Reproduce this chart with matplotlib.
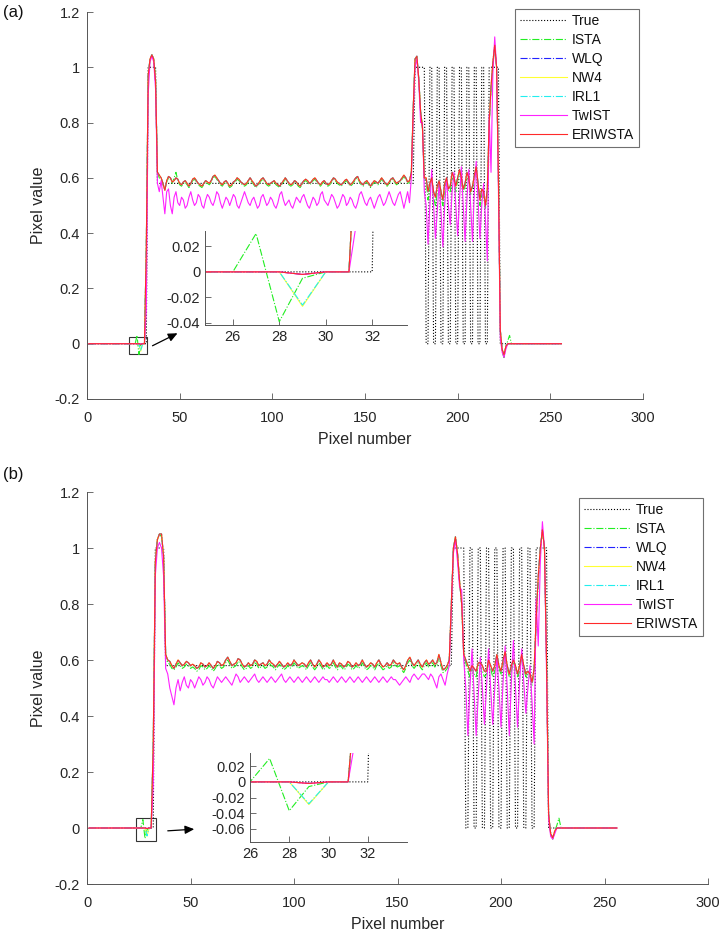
import numpy as np
import matplotlib
matplotlib.use("Agg")
import matplotlib.pyplot as plt
from matplotlib.patches import Rectangle, FancyArrowPatch

plt.rcParams['font.family'] = ['Liberation Sans', 'DejaVu Sans']

W, H = 723, 931

# ---------------- data ----------------
x = np.arange(1, 257)
TRUE = [0.0]*32 + [1.0]*5 + [0.58]*139 + [1.0]*6 + [0, 0, 1, 1]*8 + [0, 0] + [1.0]*6 + [0.0]*34

# ---- panel (a) ----
# segments: x 1-25 | 26-38 | 39-174 | 175-182 | 183-216 | 217-230 | 231-256
A_red_start = [0, 0, 0, -0.002, 0, 0, 0.35, 0.97, 1.03, 1.045, 1.03, 0.95, 0.62]
A_mag_start = [0, 0, 0, -0.002, 0, 0, 0.12, 0.90, 1.02, 1.04, 1.02, 0.92, 0.58]
A_grn_start = [0, 0.03, -0.039, -0.005, 0, 0, 0.35, 0.96, 1.03, 1.045, 1.03, 0.95, 0.62]
A_cyn_start = [0, 0, 0, -0.026, 0, 0, 0.35, 0.97, 1.03, 1.045, 1.03, 0.95, 0.62]
A_yel_start = [0, 0, 0, -0.027, 0, 0, 0.35, 0.97, 1.03, 1.045, 1.03, 0.95, 0.62]
A_blu_start = [0, 0, 0, -0.002, 0, 0, 0.35, 0.97, 1.03, 1.045, 1.03, 0.95, 0.62]

A_red_mid = [0.61, 0.60, 0.58, 0.555, 0.59, 0.605, 0.60, 0.585, 0.59, 0.60,
             0.595, 0.58, 0.575, 0.585, 0.59, 0.58, 0.57, 0.58, 0.595, 0.60,
             0.59, 0.58, 0.575, 0.57, 0.58, 0.59, 0.585, 0.58, 0.59, 0.605,
             0.61, 0.60, 0.59, 0.58, 0.575, 0.585, 0.59, 0.58, 0.57, 0.575,
             0.585, 0.59, 0.60, 0.595, 0.585, 0.58, 0.575, 0.58, 0.59, 0.60,
             0.59, 0.58, 0.57, 0.575, 0.585, 0.595, 0.60, 0.59, 0.58, 0.575,
             0.58, 0.585, 0.59, 0.58, 0.575, 0.57, 0.58, 0.59, 0.60, 0.59,
             0.58, 0.575, 0.58, 0.59, 0.585, 0.575, 0.57, 0.58, 0.59, 0.595,
             0.59, 0.58, 0.585, 0.595, 0.60, 0.59, 0.58, 0.575, 0.585, 0.59,
             0.58, 0.575, 0.58, 0.59, 0.60, 0.595, 0.585, 0.58, 0.575, 0.58,
             0.59, 0.595, 0.585, 0.575, 0.58, 0.59, 0.60, 0.605, 0.59, 0.58,
             0.575, 0.585, 0.59, 0.58, 0.57, 0.58, 0.59, 0.585, 0.58, 0.59,
             0.60, 0.59, 0.58, 0.575, 0.585, 0.595, 0.60, 0.59, 0.58, 0.585,
             0.59, 0.60, 0.61, 0.60, 0.585, 0.59]
A_mag_mid = [0.55, 0.59, 0.53, 0.47, 0.55, 0.56, 0.50, 0.47, 0.53, 0.55,
             0.51, 0.50, 0.53, 0.52, 0.49, 0.50, 0.53, 0.55, 0.52, 0.50,
             0.51, 0.54, 0.53, 0.50, 0.49, 0.52, 0.54, 0.53, 0.51, 0.50,
             0.52, 0.55, 0.54, 0.51, 0.49, 0.51, 0.53, 0.52, 0.50, 0.52,
             0.54, 0.53, 0.50, 0.49, 0.51, 0.53, 0.55, 0.53, 0.51, 0.50,
             0.52, 0.53, 0.51, 0.49, 0.50, 0.53, 0.54, 0.52, 0.50, 0.51,
             0.53, 0.52, 0.50, 0.49, 0.51, 0.54, 0.55, 0.52, 0.50, 0.51,
             0.52, 0.50, 0.49, 0.51, 0.53, 0.52, 0.51, 0.53, 0.54, 0.52,
             0.50, 0.49, 0.51, 0.53, 0.52, 0.50, 0.51, 0.54, 0.55, 0.52,
             0.51, 0.50, 0.52, 0.54, 0.53, 0.51, 0.49, 0.50, 0.52, 0.54,
             0.53, 0.50, 0.51, 0.53, 0.52, 0.50, 0.49, 0.51, 0.54, 0.55,
             0.53, 0.51, 0.50, 0.52, 0.53, 0.51, 0.49, 0.51, 0.53, 0.54,
             0.52, 0.50, 0.51, 0.53, 0.55, 0.53, 0.51, 0.50, 0.52, 0.54,
             0.55, 0.52, 0.49, 0.52, 0.55, 0.51]
A_grn_mid = [0.60, 0.595, 0.575, 0.56, 0.585, 0.60, 0.595, 0.58, 0.60, 0.62,
             0.59, 0.575, 0.57, 0.58, 0.585, 0.575, 0.565, 0.575, 0.59, 0.595,
             0.585, 0.575, 0.57, 0.565, 0.575, 0.585, 0.58, 0.575, 0.585, 0.60,
             0.605, 0.595, 0.585, 0.575, 0.57, 0.58, 0.585, 0.575, 0.565, 0.57,
             0.58, 0.585, 0.595, 0.59, 0.58, 0.575, 0.57, 0.575, 0.585, 0.595,
             0.585, 0.575, 0.565, 0.57, 0.58, 0.59, 0.595, 0.585, 0.575, 0.57,
             0.575, 0.58, 0.585, 0.575, 0.57, 0.565, 0.575, 0.585, 0.595, 0.585,
             0.575, 0.57, 0.575, 0.585, 0.58, 0.57, 0.565, 0.575, 0.585, 0.59,
             0.585, 0.575, 0.58, 0.59, 0.595, 0.585, 0.575, 0.57, 0.58, 0.585,
             0.575, 0.57, 0.575, 0.585, 0.595, 0.59, 0.58, 0.575, 0.57, 0.575,
             0.585, 0.59, 0.58, 0.57, 0.575, 0.585, 0.595, 0.60, 0.585, 0.575,
             0.57, 0.58, 0.585, 0.575, 0.565, 0.575, 0.585, 0.58, 0.575, 0.585,
             0.595, 0.585, 0.575, 0.57, 0.58, 0.59, 0.595, 0.585, 0.575, 0.58,
             0.585, 0.595, 0.605, 0.595, 0.58, 0.585]

A_red_pk1 = [0.62, 0.85, 1.03, 1.04, 0.96, 0.84, 0.78, 0.60]
A_mag_pk1 = [0.60, 0.82, 1.00, 1.03, 0.95, 0.80, 0.80, 0.55]
A_grn_pk1 = [0.61, 0.84, 1.02, 1.04, 0.96, 0.84, 0.79, 0.60]

A_red_osc = [0.60, 0.55, 0.58, 0.60, 0.55, 0.53, 0.57, 0.59, 0.55, 0.52,
             0.58, 0.60, 0.56, 0.57, 0.62, 0.60, 0.57, 0.60, 0.63, 0.60,
             0.56, 0.58, 0.62, 0.60, 0.55, 0.57, 0.61, 0.64, 0.58, 0.52,
             0.56, 0.55, 0.50, 0.56]
A_mag_osc = [0.50, 0.36, 0.50, 0.63, 0.50, 0.38, 0.48, 0.58, 0.48, 0.35,
             0.50, 0.60, 0.50, 0.43, 0.55, 0.62, 0.50, 0.39, 0.52, 0.64,
             0.50, 0.37, 0.52, 0.63, 0.50, 0.37, 0.55, 0.66, 0.52, 0.38,
             0.50, 0.58, 0.45, 0.30]
A_grn_osc = [0.59, 0.52, 0.56, 0.60, 0.53, 0.50, 0.55, 0.58, 0.53, 0.50,
             0.56, 0.60, 0.55, 0.55, 0.60, 0.59, 0.55, 0.59, 0.62, 0.59,
             0.55, 0.57, 0.60, 0.59, 0.54, 0.56, 0.60, 0.62, 0.57, 0.50,
             0.54, 0.53, 0.49, 0.54]

A_red_pk2 = [0.80, 0.93, 1.02, 1.08, 1.00, 0.60, 0.05, -0.02, -0.04, -0.01, 0, 0, 0, 0]
A_mag_pk2 = [0.83, 0.62, 0.98, 1.11, 1.00, 0.55, 0.02, -0.03, -0.05, -0.02, 0, 0, 0, 0]
A_grn_pk2 = [0.79, 0.92, 1.01, 1.07, 1.00, 0.60, 0.04, -0.03, -0.05, -0.01, 0.01, 0.03, 0, 0]

# ---- panel (b) ----
B_red_start = [0, 0, 0, -0.002, 0, 0, 0.30, 0.95, 1.03, 1.05, 1.05, 0.97, 0.62]
B_mag_start = [0, 0, 0, -0.002, 0, 0, 0.15, 0.90, 1.00, 1.02, 1.00, 0.90, 0.57]
B_grn_start = [0, 0.03, -0.037, -0.006, 0, 0, 0.30, 0.94, 1.03, 1.05, 1.04, 0.96, 0.62]
B_cyn_start = [0, 0, 0, -0.028, 0, 0, 0.30, 0.95, 1.03, 1.05, 1.05, 0.97, 0.62]
B_yel_start = [0, 0, 0, -0.029, 0, 0, 0.30, 0.95, 1.03, 1.05, 1.05, 0.97, 0.62]
B_blu_start = [0, 0, 0, -0.002, 0, 0, 0.30, 0.95, 1.03, 1.05, 1.05, 0.97, 0.62]

B_red_mid = [0.60, 0.595, 0.58, 0.57, 0.585, 0.60, 0.59, 0.58, 0.585, 0.595,
             0.59, 0.58, 0.585, 0.58, 0.57, 0.575, 0.59, 0.585, 0.575, 0.58,
             0.59, 0.58, 0.57, 0.58, 0.595, 0.59, 0.58, 0.585, 0.60, 0.61,
             0.595, 0.58, 0.585, 0.59, 0.605, 0.60, 0.585, 0.575, 0.58, 0.59,
             0.58, 0.585, 0.60, 0.595, 0.58, 0.585, 0.59, 0.58, 0.585, 0.60,
             0.59, 0.585, 0.575, 0.585, 0.595, 0.585, 0.575, 0.58, 0.59, 0.58,
             0.585, 0.60, 0.59, 0.58, 0.585, 0.59, 0.585, 0.575, 0.59, 0.60,
             0.585, 0.575, 0.585, 0.60, 0.59, 0.575, 0.58, 0.59, 0.58, 0.585,
             0.60, 0.585, 0.575, 0.59, 0.585, 0.575, 0.58, 0.595, 0.59, 0.575,
             0.58, 0.59, 0.58, 0.585, 0.60, 0.585, 0.575, 0.58, 0.59, 0.585,
             0.575, 0.59, 0.60, 0.585, 0.575, 0.58, 0.59, 0.58, 0.585, 0.60,
             0.59, 0.585, 0.59, 0.575, 0.565, 0.58, 0.60, 0.61, 0.59, 0.58,
             0.59, 0.60, 0.585, 0.575, 0.59, 0.60, 0.585, 0.59, 0.60, 0.585,
             0.59, 0.62, 0.59, 0.565, 0.57, 0.58]
B_mag_mid = [0.55, 0.50, 0.47, 0.44, 0.50, 0.53, 0.49, 0.52, 0.54, 0.51,
             0.50, 0.53, 0.52, 0.50, 0.52, 0.54, 0.53, 0.51, 0.52, 0.54,
             0.53, 0.51, 0.50, 0.52, 0.54, 0.53, 0.52, 0.53, 0.54, 0.53,
             0.52, 0.51, 0.53, 0.55, 0.54, 0.52, 0.53, 0.54, 0.53, 0.52,
             0.53, 0.54, 0.55, 0.53, 0.52, 0.53, 0.54, 0.53, 0.52, 0.53,
             0.54, 0.53, 0.52, 0.53, 0.54, 0.55, 0.53, 0.52, 0.53, 0.54,
             0.53, 0.52, 0.53, 0.54, 0.53, 0.52, 0.53, 0.54, 0.53, 0.52,
             0.53, 0.54, 0.53, 0.52, 0.53, 0.54, 0.53, 0.53, 0.52, 0.53,
             0.54, 0.53, 0.52, 0.53, 0.54, 0.53, 0.52, 0.53, 0.54, 0.53,
             0.52, 0.53, 0.54, 0.53, 0.52, 0.53, 0.54, 0.53, 0.52, 0.53,
             0.54, 0.53, 0.52, 0.53, 0.54, 0.53, 0.52, 0.53, 0.54, 0.53,
             0.53, 0.52, 0.51, 0.52, 0.53, 0.54, 0.53, 0.52, 0.54, 0.55,
             0.54, 0.53, 0.54, 0.55, 0.55, 0.54, 0.53, 0.55, 0.54, 0.52,
             0.50, 0.54, 0.55, 0.53, 0.51, 0.55]
B_grn_mid = [0.59, 0.585, 0.57, 0.565, 0.575, 0.59, 0.58, 0.57, 0.575, 0.585,
             0.58, 0.57, 0.575, 0.57, 0.56, 0.565, 0.58, 0.575, 0.565, 0.57,
             0.58, 0.57, 0.56, 0.57, 0.585, 0.58, 0.57, 0.575, 0.59, 0.60,
             0.585, 0.57, 0.575, 0.58, 0.595, 0.59, 0.575, 0.565, 0.57, 0.58,
             0.57, 0.575, 0.59, 0.585, 0.57, 0.575, 0.58, 0.57, 0.575, 0.59,
             0.58, 0.575, 0.565, 0.575, 0.585, 0.575, 0.565, 0.57, 0.58, 0.57,
             0.575, 0.59, 0.58, 0.57, 0.575, 0.58, 0.575, 0.565, 0.58, 0.59,
             0.575, 0.565, 0.575, 0.59, 0.58, 0.565, 0.57, 0.58, 0.57, 0.575,
             0.59, 0.575, 0.565, 0.58, 0.575, 0.565, 0.57, 0.585, 0.58, 0.565,
             0.57, 0.58, 0.57, 0.575, 0.59, 0.575, 0.565, 0.57, 0.58, 0.575,
             0.565, 0.58, 0.59, 0.575, 0.565, 0.57, 0.58, 0.57, 0.575, 0.59,
             0.58, 0.575, 0.58, 0.565, 0.555, 0.57, 0.59, 0.60, 0.58, 0.57,
             0.58, 0.59, 0.575, 0.565, 0.58, 0.59, 0.575, 0.58, 0.59, 0.575,
             0.58, 0.61, 0.58, 0.555, 0.56, 0.57]

B_red_pk1 = [0.60, 0.80, 1.00, 1.04, 0.98, 0.88, 0.80, 0.62]
B_mag_pk1 = [0.58, 0.78, 0.98, 1.03, 0.95, 0.86, 0.85, 0.60]
B_grn_pk1 = [0.59, 0.79, 0.99, 1.04, 0.98, 0.88, 0.80, 0.62]

B_red_osc = [0.60, 0.58, 0.56, 0.58, 0.57, 0.56, 0.59, 0.59, 0.58, 0.56,
             0.56, 0.60, 0.58, 0.56, 0.58, 0.62, 0.58, 0.56, 0.60, 0.63,
             0.58, 0.55, 0.58, 0.60, 0.58, 0.55, 0.58, 0.62, 0.58, 0.55,
             0.56, 0.55, 0.52, 0.57]
B_mag_osc = [0.50, 0.33, 0.50, 0.64, 0.48, 0.33, 0.47, 0.61, 0.50, 0.37,
             0.50, 0.64, 0.50, 0.37, 0.50, 0.61, 0.50, 0.36, 0.52, 0.65,
             0.50, 0.33, 0.52, 0.67, 0.50, 0.36, 0.52, 0.64, 0.52, 0.41,
             0.50, 0.58, 0.45, 0.30]
B_grn_osc = [0.59, 0.56, 0.54, 0.57, 0.55, 0.54, 0.58, 0.58, 0.56, 0.54,
             0.55, 0.59, 0.57, 0.54, 0.56, 0.60, 0.57, 0.55, 0.58, 0.61,
             0.57, 0.54, 0.56, 0.59, 0.57, 0.54, 0.56, 0.61, 0.57, 0.54,
             0.55, 0.54, 0.51, 0.56]

B_red_pk2 = [0.75, 0.90, 1.00, 1.065, 1.00, 0.60, 0.05, -0.02, -0.035, -0.01, 0, 0, 0, 0]
B_mag_pk2 = [0.82, 0.65, 0.95, 1.094, 1.00, 0.55, 0.03, -0.03, -0.04, -0.02, 0, 0, 0, 0]
B_grn_pk2 = [0.74, 0.88, 0.99, 1.06, 1.00, 0.60, 0.04, -0.02, -0.04, -0.01, 0.01, 0.035, 0, 0]


def build(start, mid, pk1, osc, pk2):
    return [0.0]*25 + start + mid + pk1 + osc + pk2 + [0.0]*26


A = {
    'True': TRUE,
    'ISTA': build(A_grn_start, A_grn_mid, A_grn_pk1, A_grn_osc, A_grn_pk2),
    'WLQ': build(A_blu_start, A_red_mid, A_red_pk1, A_red_osc, A_red_pk2),
    'NW4': build(A_yel_start, A_red_mid, A_red_pk1, A_red_osc, A_red_pk2),
    'IRL1': build(A_cyn_start, A_red_mid, A_red_pk1, A_red_osc, A_red_pk2),
    'TwIST': build(A_mag_start, A_mag_mid, A_mag_pk1, A_mag_osc, A_mag_pk2),
    'ERIWSTA': build(A_red_start, A_red_mid, A_red_pk1, A_red_osc, A_red_pk2),
}
B = {
    'True': TRUE,
    'ISTA': build(B_grn_start, B_grn_mid, B_grn_pk1, B_grn_osc, B_grn_pk2),
    'WLQ': build(B_blu_start, B_red_mid, B_red_pk1, B_red_osc, B_red_pk2),
    'NW4': build(B_yel_start, B_red_mid, B_red_pk1, B_red_osc, B_red_pk2),
    'IRL1': build(B_cyn_start, B_red_mid, B_red_pk1, B_red_osc, B_red_pk2),
    'TwIST': build(B_mag_start, B_mag_mid, B_mag_pk1, B_mag_osc, B_mag_pk2),
    'ERIWSTA': build(B_red_start, B_red_mid, B_red_pk1, B_red_osc, B_red_pk2),
}

names = ['True', 'ISTA', 'WLQ', 'NW4', 'IRL1', 'TwIST', 'ERIWSTA']
styles = {
    'True': dict(color='black', ls=':', lw=0.8),
    'ISTA': dict(color='#22ee22', ls='-.', lw=0.8),
    'WLQ': dict(color='#2222ff', ls='-.', lw=0.8),
    'NW4': dict(color='#ffff33', ls='-', lw=0.8),
    'IRL1': dict(color='#22eeee', ls='-.', lw=0.8),
    'TwIST': dict(color='#ff22ff', ls='-', lw=0.8),
    'ERIWSTA': dict(color='#ff2a2a', ls='-', lw=0.8),
}

TXT = '#262626'
SPINE = '#555555'

fig = plt.figure(figsize=(W/100, H/100), dpi=100)


def frac(l, t, r, b):
    return [l/W, 1 - b/H, (r - l)/W, (b - t)/H]


def style_axes(ax, fs=10.5, xpad=3.5, ypad=3.5):
    for s in ['top', 'right']:
        ax.spines[s].set_visible(False)
    for s in ['left', 'bottom']:
        ax.spines[s].set_color(SPINE)
        ax.spines[s].set_linewidth(0.7)
    ax.tick_params(direction='in', length=4, width=0.6, color=SPINE,
                   labelcolor=TXT, labelsize=fs)
    ax.tick_params(axis='x', pad=xpad)
    ax.tick_params(axis='y', pad=ypad)


def panel(data, rect, letter, letter_xy, inset_rect, inset_xlim, inset_ylim,
          inset_yticks, box, arrow, leg_anchor):
    ax = fig.add_axes(rect)
    for n in names:
        ax.plot(x, data[n], label=n, **styles[n])
    ax.set_xlim(0, 300)
    ax.set_ylim(-0.2, 1.2)
    ax.set_xticks(np.arange(0, 301, 50))
    ax.set_yticks([-0.2, 0, 0.2, 0.4, 0.6, 0.8, 1, 1.2])
    ax.set_yticklabels(['-0.2', '0', '0.2', '0.4', '0.6', '0.8', '1', '1.2'])
    style_axes(ax, xpad=8.5, ypad=5)
    ax.set_xlabel('Pixel number', fontsize=11.5, color=TXT, labelpad=5.5)
    ax.set_ylabel('Pixel value', fontsize=11.5, color=TXT, labelpad=6)
    leg = ax.legend(loc='upper right', bbox_to_anchor=leg_anchor,
                    bbox_transform=fig.transFigure, fontsize=10,
                    handlelength=3.4, handletextpad=0.35, labelspacing=0.36,
                    borderpad=0.35, fancybox=False, framealpha=1,
                    edgecolor='#707070', borderaxespad=0)
    leg.get_frame().set_linewidth(0.8)
    for t in leg.get_texts():
        t.set_color('#111111')
    fig.text(letter_xy[0]/W, 1 - letter_xy[1]/H, letter, fontsize=12, color='#111111',
             ha='left', va='center')
    # zoom box
    ax.add_patch(Rectangle((box[0], box[1]), box[2], box[3], fill=False,
                           edgecolor='#333333', lw=0.8))
    # arrow
    fig.add_artist(FancyArrowPatch(
        (arrow[0]/W, 1 - arrow[1]/H), (arrow[2]/W, 1 - arrow[3]/H),
        transform=fig.transFigure, arrowstyle='-|>,head_length=5.5,head_width=2.5',
        color='black', lw=0.9, mutation_scale=1))
    # inset
    ai = fig.add_axes(inset_rect)
    for n in names:
        ai.plot(x, data[n], **styles[n])
    ai.set_xlim(*inset_xlim)
    ai.set_ylim(*inset_ylim)
    ai.set_xticks([26, 28, 30, 32])
    ai.set_yticks(inset_yticks)
    ai.set_yticklabels(['%g' % v for v in inset_yticks])
    style_axes(ai, fs=10.5)
    return ax, ai


panel(A, frac(87, 12, 643, 399), '(a)', (3, 12),
      frac(205, 231, 407, 325), (24.8, 33.5), (-0.0416, 0.032),
      [-0.04, -0.02, 0, 0.02],
      (22.7, -0.036, 9.7, 0.061), (150, 347, 180, 332), (639/W, 1 - 9/H))

panel(B, frac(87, 492, 708, 884), '(b)', (3, 474),
      frac(250, 753, 407, 842), (26, 34), (-0.077, 0.037),
      [-0.06, -0.04, -0.02, 0, 0.02],
      (23.7, -0.046, 9.6, 0.082), (165, 831, 197, 829), (703/W, 1 - 498/H))

fig.savefig('out.png', dpi=100)
